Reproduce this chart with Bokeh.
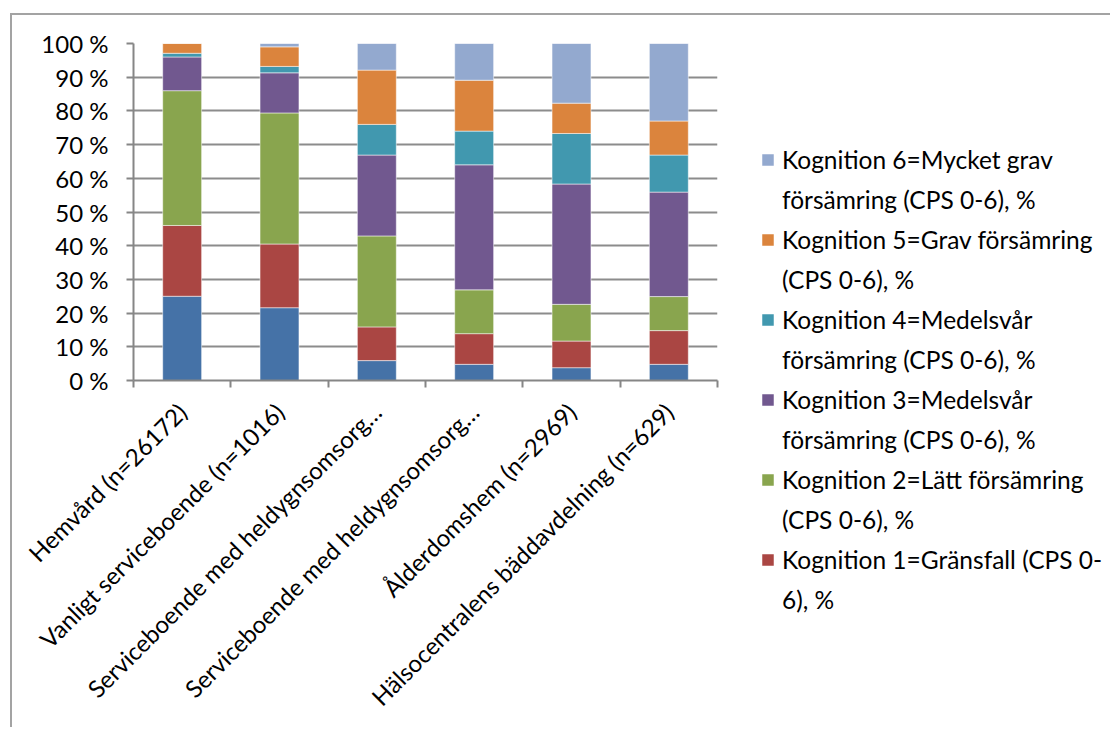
from bokeh.plotting import figure
from bokeh.layouts import column
from bokeh.models import Legend, LegendItem, FixedTicker, Range1d
from bokeh.embed import file_html
from bokeh.resources import INLINE

categories = [
    "Hemvård (n=26172)",
    "Vanligt serviceboende (n=1016)",
    "Serviceboende med heldygnsomsorg…",
    "Serviceboende med heldygnsomsorg…",
    "Ålderdomshem (n=2969)",
    "Hälsocentralens bäddavdelning (n=629)",
]

k0 = [25.0, 21.6, 5.9, 4.8, 3.8, 4.8]
k1 = [21.0, 18.9, 10.0, 9.1, 7.9, 10.0]
k2 = [40.0, 38.9, 27.0, 13.0, 10.9, 10.1]
k3 = [10.0, 11.9, 24.0, 37.1, 35.7, 31.0]
k4 = [1.1, 1.9, 9.1, 10.0, 15.0, 11.0]
k5 = [2.9, 5.8, 16.1, 15.1, 9.0, 10.1]
k6 = [0.0, 1.0, 7.9, 10.9, 17.7, 23.0]

# legend labels (first line, second line), index = Kognition level
series_names = [
    ("Kognition 0=Intakt (CPS 0-6), %", ""),
    ("Kognition 1=Gränsfall (CPS 0-", "6), %"),
    ("Kognition 2=Lätt försämring", "(CPS 0-6), %"),
    ("Kognition 3=Medelsvår", "försämring (CPS 0-6), %"),
    ("Kognition 4=Medelsvår", "försämring (CPS 0-6), %"),
    ("Kognition 5=Grav försämring", "(CPS 0-6), %"),
    ("Kognition 6=Mycket grav", "försämring (CPS 0-6), %"),
]
colors = ["#4572A7", "#AA4643", "#89A54E", "#71588F", "#4198AF", "#DB843D", "#93A9CF"]

yticks = [0, 10, 20, 30, 40, 50, 60, 70, 80, 90, 100]

FONT = "Lato"
FS = "24px"
LFS = "24.5px"

W = 1088
H = 712

p = figure(
    width=W, height=H,
    output_backend="svg", toolbar_location=None,
    x_range=Range1d(0, len(categories)), y_range=Range1d(0, 100),
    min_border_left=121, min_border_top=28, min_border_right=W - 121 - 584,
    min_border_bottom=H - 28 - 337,
    frame_width=584, frame_height=337,
)
p.outline_line_color = None

xs = [i + 0.5 for i in range(len(categories))]
all_series = [k0, k1, k2, k3, k4, k5, k6]
bottoms = [0.0] * len(categories)
renderers = []
for vals, col in zip(all_series, colors):
    tops = [b + v for b, v in zip(bottoms, vals)]
    r = p.vbar(x=xs, width=0.4, bottom=bottoms, top=tops, fill_color=col,
               line_color="white", line_alpha=0.5, line_width=1)
    renderers.append(r)
    bottoms = tops

# axes
p.xaxis.ticker = FixedTicker(ticks=xs, minor_ticks=list(range(len(categories) + 1)))
p.xaxis.major_label_overrides = {x: c for x, c in zip(xs, categories)}
p.xaxis.major_label_orientation = 0.785398
p.xaxis.major_tick_out = 0
p.xaxis.major_tick_in = 0
p.xaxis.minor_tick_out = 7
p.xaxis.minor_tick_in = 0
p.xaxis.minor_tick_line_color = "#868686"
p.xaxis.minor_tick_line_width = 2
p.xaxis.axis_line_color = "#868686"
p.xaxis.axis_line_width = 2
p.xaxis.major_label_text_font = FONT
p.xaxis.major_label_text_font_size = FS
p.xaxis.major_label_text_color = "#000000"
p.xaxis.major_label_standoff = 20

p.yaxis.ticker = FixedTicker(ticks=yticks, minor_ticks=[])
p.yaxis.major_label_overrides = {v: f"{v} %" for v in yticks}
p.yaxis.major_tick_out = 7
p.yaxis.major_tick_in = 0
p.yaxis.major_tick_line_color = "#868686"
p.yaxis.major_tick_line_width = 2
p.yaxis.axis_line_color = "#868686"
p.yaxis.axis_line_width = 2
p.yaxis.major_label_text_font = FONT
p.yaxis.major_label_text_font_size = FS
p.yaxis.major_label_text_color = "#000000"
p.yaxis.major_label_standoff = 18

p.xgrid.grid_line_color = None
p.ygrid.ticker = FixedTicker(ticks=yticks)
p.ygrid.grid_line_color = "#8c8c8c"
p.ygrid.grid_line_width = 2

# legend: first line carries the colour square, second line is text only
items = []
for level in range(6, 0, -1):
    l1, l2 = series_names[level]
    items.append(LegendItem(label=l1, renderers=[renderers[level]]))
    items.append(LegendItem(label=l2, renderers=[]))

STEP = 40
legend = Legend(items=items, location=(43, -(620 - 381)),
                label_text_font=FONT, label_text_font_size=LFS,
                label_text_color="#000000",
                glyph_width=15, glyph_height=15, label_standoff=7,
                label_height=STEP, spacing=0,
                padding=0, margin=0,
                border_line_color=None, background_fill_alpha=0)
p.add_layout(legend, "right")

layout = column(p, styles={"border-left": "2px solid #a3a3a3", "border-top": "2px solid #a3a3a3",
                           "margin-left": "10px", "margin-top": "13px"})

open("out.html", "w").write(file_html(layout, INLINE))
